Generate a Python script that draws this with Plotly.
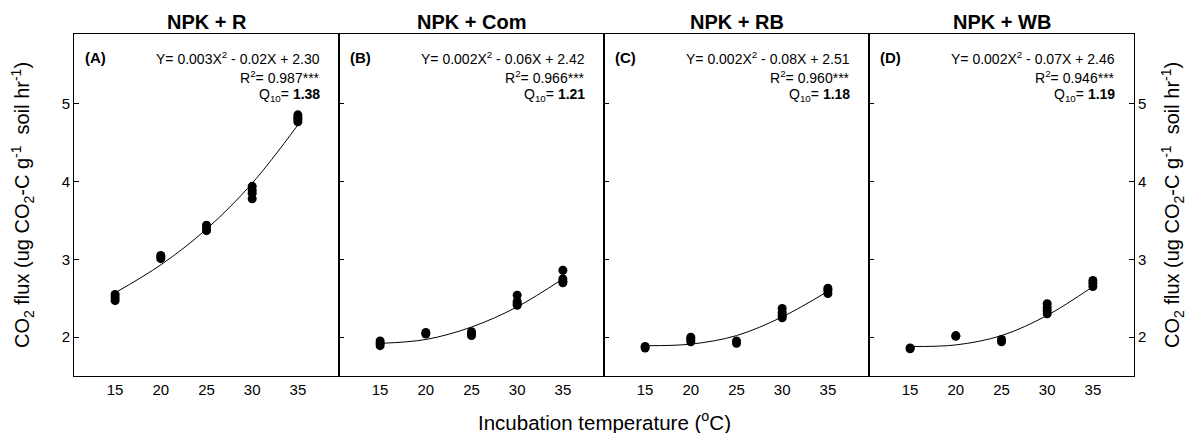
import plotly.graph_objects as go

# ---------------- data ----------------
panel_titles = ["NPK + R", "NPK + Com", "NPK + RB", "NPK + WB"]
panel_letters = ["(A)", "(B)", "(C)", "(D)"]
equations = ["Y= 0.003X<sup>2</sup> - 0.02X + 2.30",
             "Y= 0.002X<sup>2</sup> - 0.06X + 2.42",
             "Y= 0.002X<sup>2</sup> - 0.08X + 2.51",
             "Y= 0.002X<sup>2</sup> - 0.07X + 2.46"]
r2_texts = ["0.987***", "0.966***", "0.960***", "0.946***"]
q10_values = ["1.38", "1.21", "1.18", "1.19"]

temps = [15, 20, 25, 30, 35]

A_x = [15, 15, 15, 20, 20, 20, 25, 25, 25, 30, 30, 30, 30, 35, 35, 35, 35]
A_y = [2.47, 2.51, 2.55, 3.01, 3.03, 3.05, 3.37, 3.40, 3.44, 3.94, 3.89, 3.85, 3.78, 4.86, 4.83, 4.80, 4.77]

B_x = [15, 15, 15, 20, 20, 25, 25, 25, 30, 30, 30, 30, 35, 35, 35, 35]
B_y = [1.95, 1.92, 1.89, 2.06, 2.04, 2.07, 2.04, 2.02, 2.54, 2.46, 2.43, 2.41, 2.86, 2.75, 2.72, 2.70]

C_x = [15, 15, 20, 20, 20, 25, 25, 30, 30, 30, 30, 35, 35, 35]
C_y = [1.88, 1.86, 2.00, 1.97, 1.94, 1.95, 1.92, 2.37, 2.32, 2.28, 2.25, 2.63, 2.60, 2.56]

D_x = [15, 15, 20, 20, 25, 25, 30, 30, 30, 30, 35, 35, 35]
D_y = [1.86, 1.85, 2.02, 2.01, 1.97, 1.94, 2.43, 2.38, 2.34, 2.30, 2.73, 2.69, 2.65]

# fitted curve values at each temperature
A_fit = [2.57, 2.93, 3.39, 3.98, 4.73]
B_fit = [1.92, 1.97, 2.13, 2.39, 2.75]
C_fit = [1.89, 1.91, 2.02, 2.26, 2.59]
D_fit = [1.88, 1.90, 2.02, 2.28, 2.65]

x_tickvals = [15, 20, 25, 30, 35]
y_tickvals = [2, 3, 4, 5]

points_x = [A_x, B_x, C_x, D_x]
points_y = [A_y, B_y, C_y, D_y]
fits = [A_fit, B_fit, C_fit, D_fit]

# ---------------- figure ----------------
FONT = "Arial, Liberation Sans, Helvetica, sans-serif"
fig = go.Figure()

for i in range(4):
    n = "" if i == 0 else str(i + 1)
    fig.add_trace(go.Scatter(
        x=temps, y=fits[i], mode="lines", line=dict(color="black", width=1, shape="spline"),
        xaxis="x" + n, yaxis="y" + n, showlegend=False, hoverinfo="skip"))
    fig.add_trace(go.Scatter(
        x=points_x[i], y=points_y[i], mode="markers",
        marker=dict(color="black", size=9, symbol="circle"),
        xaxis="x" + n, yaxis="y" + n, showlegend=False))

# the page body adds an 8 px offset, margins compensate for it
layout = dict(
    width=1195, height=433,
    margin=dict(l=66, r=69, t=26, b=65),
    paper_bgcolor="white", plot_bgcolor="white",
    font=dict(family=FONT, color="black", size=14),
    showlegend=False,
)

for i in range(4):
    n = "" if i == 0 else str(i + 1)
    layout["xaxis" + n] = dict(
        domain=[i * 0.25, (i + 1) * 0.25], range=[10.5, 39.5],
        tickvals=x_tickvals, ticks="", showgrid=False, zeroline=False,
        showline=True, mirror=True, linecolor="black", linewidth=1,
        anchor="y" + n, tickfont=dict(size=15, family=FONT, color="black"),
    )
    yax = dict(
        domain=[0, 1], range=[1.5, 5.9], tickvals=y_tickvals,
        ticks="inside", ticklen=5, tickcolor="black", tickwidth=1,
        showgrid=False, zeroline=False, showline=True, mirror=True,
        linecolor="black", linewidth=1, anchor="x" + n,
        showticklabels=(i == 0 or i == 3),
        tickfont=dict(size=15, family=FONT, color="black"),
    )
    if i == 3:
        yax["side"] = "right"
        yax["mirror"] = "ticks"
    layout["yaxis" + n] = yax

fig.update_layout(**layout)

ann = []
for i in range(4):
    n = "" if i == 0 else str(i + 1)
    xd = "x" + n + " domain"
    yd = "y" + n + " domain"
    ann.append(dict(text="<b>" + panel_titles[i] + "</b>", xref=xd, yref="paper",
                    x=0.5, y=1.036, xanchor="center", yanchor="middle",
                    showarrow=False, font=dict(size=20, family=FONT)))
    ann.append(dict(text="<b>" + panel_letters[i] + "</b>", xref=xd, yref=yd,
                    x=0.034, y=0.93, xanchor="left", yanchor="middle",
                    showarrow=False, font=dict(size=15, family=FONT)))
    ann.append(dict(text=equations[i], xref=xd, yref=yd,
                    x=0.936, y=0.93, xanchor="right", yanchor="middle",
                    showarrow=False, font=dict(size=14, family=FONT)))
    ann.append(dict(text="R<sup>2</sup>= " + r2_texts[i], xref=xd, yref=yd,
                    x=0.936, y=0.874, xanchor="right", yanchor="middle",
                    showarrow=False, font=dict(size=14, family=FONT)))
    ann.append(dict(text="Q<sub>10</sub>= <b>" + q10_values[i] + "</b>", xref=xd, yref=yd,
                    x=0.936, y=0.822, xanchor="right", yanchor="middle",
                    showarrow=False, font=dict(size=14, family=FONT)))

ytitle = "CO<sub>2</sub> flux (ug CO<sub>2</sub>-C g<sup>-1</sup>  soil hr<sup>-1</sup>)"
ann.append(dict(text=ytitle, xref="paper", yref="paper", x=-0.049, y=0.5,
                xanchor="center", yanchor="middle", textangle=-90, showarrow=False,
                font=dict(size=20, family=FONT)))
ann.append(dict(text=ytitle, xref="paper", yref="paper", x=1.0358, y=0.5,
                xanchor="center", yanchor="middle", textangle=-90, showarrow=False,
                font=dict(size=20, family=FONT)))
ann.append(dict(text="Incubation temperature (<sup>o</sup>C)", xref="paper", yref="paper",
                x=0.5, y=-0.1316, xanchor="center", yanchor="middle", showarrow=False,
                font=dict(size=20.5, family=FONT)))

fig.update_layout(annotations=ann)
fig.write_html("out.html")
